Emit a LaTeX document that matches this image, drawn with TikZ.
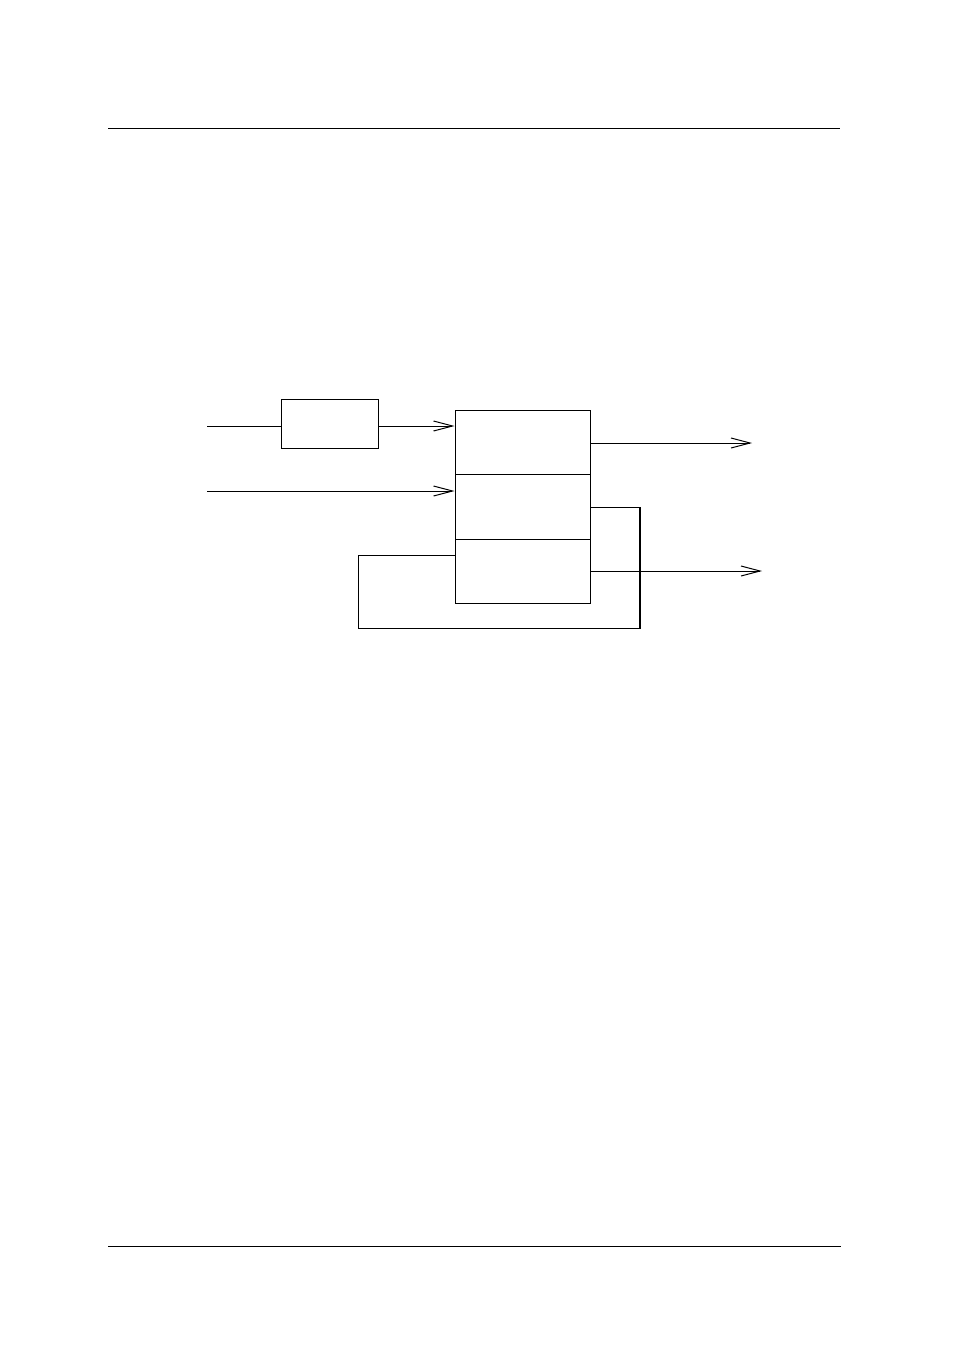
\documentclass[tikz,border=0pt]{standalone}
\usetikzlibrary{arrows.meta}
\begin{document}
\begin{tikzpicture}[x=1pt,y=-1pt,line width=1pt,
  blk/.style={draw,inner sep=0pt,line width=1pt},
  arr/.style={-{Straight Barb[length=19pt,width=10pt,line width=1pt]}}]
\useasboundingbox (0,0) rectangle (954,1352);
% page rules
\coordinate (tl) at (108,128);
\coordinate (tr) at (840,128);
\coordinate (bl) at (108,1246);
\coordinate (br) at (841,1246);
\draw (tl) -- (tr);
\draw (bl) -- (br);
% blocks
\node[blk,minimum width=97pt,minimum height=49pt] (f) at (329.5,423.5) {};
\node[blk,minimum width=135pt,minimum height=64pt] (b1) at (522.5,442) {};
\node[blk,minimum width=135pt,minimum height=65pt] (b2) at (522.5,506.5) {};
\node[blk,minimum width=135pt,minimum height=64pt] (b3) at (522.5,571) {};
% inputs
\coordinate (i1) at (207,426);
\coordinate (i2) at (207,491);
\draw (i1) -- (i1 -| f.west);
\draw[arr] (f.east |- i1) -- (i1 -| b1.west);
\draw[arr] (i2) -- (i2 -| b2.west);
% outputs
\coordinate (o1) at (752,443);
\coordinate (o2) at (762,571);
\draw[arr] (b1.east |- o1) -- (o1);
\draw[arr] (b3.east |- o2) -- (o2);
% feedback
\coordinate (fa) at (640,507);
\coordinate (fb) at (640,628);
\coordinate (fc) at (358,628);
\coordinate (fd) at (358,555);
\draw (b2.east |- fa) -- (fa) -- (fb) -- (fc) -- (fd) -- (fd -| b3.west);
\draw[line width=2pt] (fa) -- (fb);
\end{tikzpicture}
\end{document}
